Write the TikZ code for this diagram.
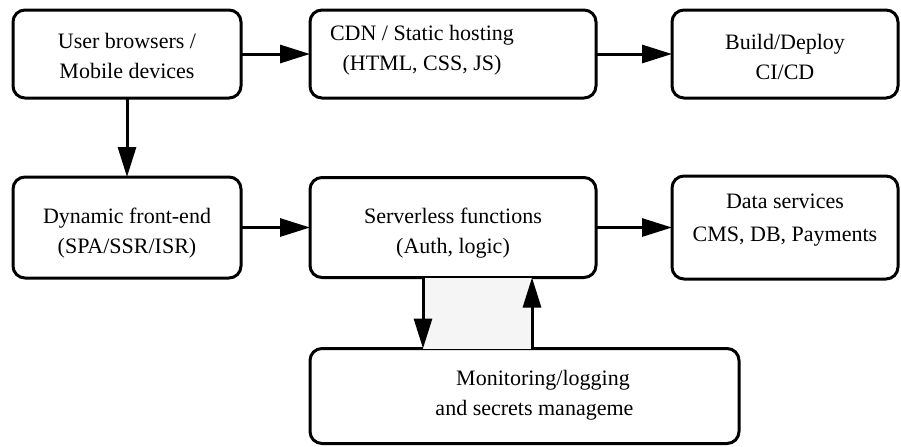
\documentclass[tikz,border=0pt]{standalone}
\usepackage{fontspec}
\setmainfont{Liberation Serif}
\usepackage{tikz}
\usetikzlibrary{positioning, arrows.meta}

\begin{document}
\begin{tikzpicture}[
  box/.style={draw, line width=1.5pt, rounded corners=6pt, inner sep=0pt, outer sep=0pt, minimum width=114pt, minimum height=44pt},
  txt/.style={align=center, font=\fontsize{11pt}{15pt}\selectfont, inner sep=0pt},
  arr/.style={-{Triangle[length=15pt, width=9pt]}, line width=1.5pt}
]
  \useasboundingbox (0,0) rectangle (450.5pt,-223pt);
  % top row
  \node[box, anchor=north west] (user) at (6.5pt,-5pt) {};
  \node[box, right=34.5pt of user, minimum width=143pt] (cdn) {};
  \node[box, right=38pt of cdn, minimum width=113pt] (build) {};
  % middle row
  \node[box, below=39.5pt of user, minimum height=50.5pt] (front) {};
  \node[box, right=34.5pt of front, minimum width=143pt, minimum height=50pt] (fn) {};
  \node[box, right=38pt of fn, minimum width=113pt, minimum height=51.5pt] (data) {};
  % bottom
  \node[box, below=35.5pt of fn.south west, anchor=north west, minimum width=214.5pt, minimum height=47.5pt] (mon) {};
  % labels
  \node[txt, yshift=-1pt] (usertxt) at (user) {User browsers /\\ Mobile devices};
  \node[txt, xshift=-15.5pt, yshift=1.75pt] (cdntxt) at (cdn) {CDN / Static hosting\\ (HTML, CSS, JS)};
  \node[txt, yshift=-1.5pt] (buildtxt) at (build) {Build/Deploy\\ CI/CD};
  \node[txt, yshift=-2.75pt] (fronttxt) at (front) {Dynamic front-end\\ (SPA/SSR/ISR)};
  \node[txt, yshift=-3pt] (fntxt) at (fn) {Serverless functions\\ (Auth, logic)};
  \node[txt, yshift=3.5pt] (datatxt) at (data) {Data services\\[1.5pt] CMS, DB, Payments};
  \node[txt, xshift=9.25pt, yshift=0.5pt] (montxt) at (mon) {Monitoring/logging\\ and secrets manageme\phantom{nt}};
  \coordinate (fnout) at ([xshift=56.5pt]fn.south west);
  \coordinate (fnin) at ([xshift=111pt]fn.south west);
  \fill[black!4] (fnout) rectangle (fnin |- mon.north);
  \draw[arr] (user) -- (cdn);
  \draw[arr] (cdn) -- (build);
  \draw[arr] (user) -- (front);
  \draw[arr] (front) -- (fn);
  \draw[arr] (fn) -- (data);
  \draw[arr] (fnout) -- (fnout |- mon.north);
  \draw[arr] (fnin |- mon.north) -- (fnin);
\end{tikzpicture}
\end{document}
